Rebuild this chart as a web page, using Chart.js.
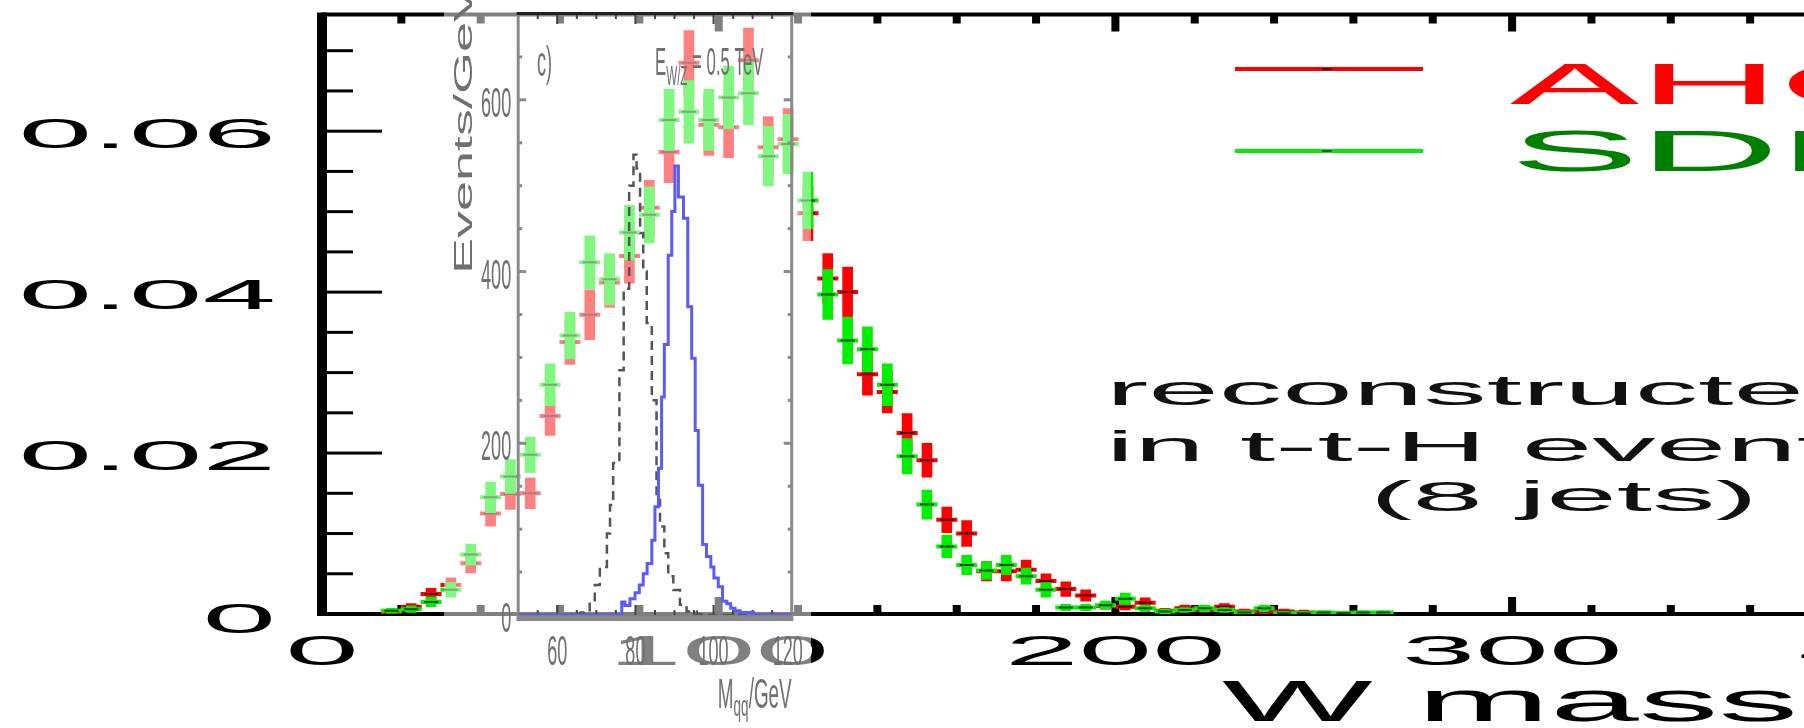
<!DOCTYPE html>
<html>
<head>
<meta charset="utf-8">
<script src="https://cdn.jsdelivr.net/npm/chart.js@4.4.0/dist/chart.umd.min.js"></script>
<style>
  html, body { margin: 0; padding: 0; overflow: hidden; background: #fff; }
  #wrap { position: relative; width: 1804px; height: 728px; overflow: hidden; }
  #mainChart { position: absolute; left: 0; top: 0; }
  #insetChart { position: absolute; left: 444px; top: 0; background: rgba(255, 255, 255, 0.5); }
</style>
</head>
<body>
<div id="wrap">
  <canvas id="mainChart" width="2320" height="728"></canvas>
  <canvas id="insetChart" width="367" height="728"></canvas>
</div>
<script>
// --- main histogram: reconstructed W mass, 5 GeV bins ---
const massBins = [17.5, 22.5, 27.5, 32.5, 37.5, 42.5, 47.5, 52.5, 57.5, 62.5,
  67.5, 72.5, 77.5, 82.5, 87.5, 92.5, 97.5, 102.5, 107.5, 112.5,
  117.5, 122.5, 127.5, 132.5, 137.5, 142.5, 147.5, 152.5, 157.5, 162.5,
  167.5, 172.5, 177.5, 182.5, 187.5, 192.5, 197.5, 202.5, 207.5, 212.5,
  217.5, 222.5, 227.5, 232.5, 237.5, 242.5, 247.5, 252.5, 257.5, 262.5, 267.5];

const ahcal = [0.0002, 0.0009, 0.0025, 0.0036, 0.0063, 0.0125, 0.0149, 0.0150, 0.0246, 0.0338,
  0.0372, 0.0412, 0.0445, 0.0505, 0.0574, 0.0685, 0.0608, 0.0605, 0.0688, 0.0580,
  0.0590, 0.0498, 0.0417, 0.0400, 0.0298, 0.0276, 0.0225, 0.0191, 0.0117, 0.0100,
  0.0053, 0.0053, 0.0055, 0.0041, 0.0031, 0.0023, 0.0010, 0.0009, 0.0014, 0.0004,
  0.0007, 0.0005, 0.0009, 0.0003, 0.0003, 0.0003, 0.0002, 0.0001, 0.0001, null, null];
const ahcalErr = [0.0003, 0.0004, 0.0007, 0.0009, 0.0012, 0.0016, 0.0019, 0.0019, 0.0024, 0.0028,
  0.0031, 0.0031, 0.0034, 0.0034, 0.0038, 0.0040, 0.0038, 0.0038, 0.0040, 0.0038,
  0.0038, 0.0034, 0.0031, 0.0031, 0.0026, 0.0026, 0.0024, 0.0021, 0.0016, 0.0016,
  0.0012, 0.0012, 0.0012, 0.0009, 0.0009, 0.0007, 0.0004, 0.0004, 0.0006, 0.0003,
  0.0004, 0.0003, 0.0004, 0.0003, 0.0003, 0.0003, 0.0003, 0.0002, 0.0002, 0, 0];

const sdhcal = [0.0004, 0.0006, 0.0015, 0.0030, 0.0074, 0.0145, 0.0171, 0.0198, 0.0285, 0.0346,
  0.0437, 0.0416, 0.0474, 0.0496, 0.0614, 0.0624, 0.0614, 0.0642, 0.0647, 0.0569,
  0.0584, 0.0514, 0.0397, 0.0340, 0.0329, 0.0285, 0.0196, 0.0136, 0.0084, 0.0061,
  0.0054, 0.0061, 0.0047, 0.0030, 0.0008, 0.0008, 0.0011, 0.0019, 0.0007, 0.0003,
  0.0005, 0.0007, 0.0005, 0.0002, 0.0007, 0.0001, 0.0001, 0.0002, 0.0001, 0.0002, 0.0002];
const sdhcalErr = [0.0003, 0.0004, 0.0006, 0.0009, 0.0013, 0.0019, 0.0021, 0.0022, 0.0026, 0.0029,
  0.0033, 0.0032, 0.0034, 0.0035, 0.0038, 0.0039, 0.0038, 0.0039, 0.0039, 0.0037,
  0.0037, 0.0035, 0.0031, 0.0029, 0.0028, 0.0026, 0.0022, 0.0018, 0.0014, 0.0012,
  0.0011, 0.0012, 0.0010, 0.0009, 0.0004, 0.0004, 0.0005, 0.0007, 0.0004, 0.0003,
  0.0003, 0.0004, 0.0003, 0.0002, 0.0004, 0.0002, 0.0002, 0.0002, 0.0002, 0.0002, 0.0002];

const seriesNames = ['AHCAL', 'SDHCAL'];
const yTicks = [0, 0.02, 0.04, 0.06];
const yTickLabels = ['0', '0.02', '0.04', '0.06'];
const xTicks = [0, 100, 200, 300, 400];
const xTitle = 'W mass (GeV)';
const noteLines = ['reconstructed W', 'in t-t-H events', '(8 jets)'];

// --- inset: M_qq distributions (step histograms, left bin edges) ---
const blueEdges = [50, 76.5, 77.3, 78.6, 79.9, 81.0, 82.0, 83.0, 84.2, 85.0, 85.9, 86.7, 87.4, 88.4,
  89.3, 90.1, 91.0, 92.3, 93.4, 94.4, 95.3, 96.1, 97.2, 98.2, 99.3, 100.1, 101.2, 102.3,
  103.4, 104.4, 105.5, 106.8, 110.2, 120];
const blueCounts = [0, 15, 11, 19, 26, 35, 48, 60, 87, 126, 171, 254, 315, 419,
  470, 523, 487, 462, 359, 299, 215, 151, 82, 68, 56, 43, 33, 16,
  13, 8, 5, 3, 0, 0];
const dashEdges = [50, 66.0, 68.3, 69.6, 70.9, 72.7, 73.5, 74.3, 75.9, 77.0, 78.4, 79.5, 80.3, 81.2,
  82.0, 82.9, 84.2, 85.4, 86.3, 87.4, 88.4, 89.7, 91.4, 93.1, 95.7, 98.0, 120];
const dashCounts = [0, 3, 15, 35, 56, 95, 128, 177, 285, 380, 500, 536, 520, 445,
  400, 340, 250, 134, 103, 72, 45, 29, 12, 4, 1, 0, 0];
const insetYTicks = [0, 200, 400, 600];
const insetXTicks = [60, 80, 100, 120];

const RED = '#ff0000';
const GREEN = '#00f000';
const FONT = '"Liberation Sans", Arial, sans-serif';

// text squeezed or widened along x
function wideText(ctx, text, x, y, sx, align) {
  ctx.save();
  ctx.translate(x, y);
  ctx.scale(sx, 1);
  ctx.textAlign = align || 'left';
  ctx.fillText(text, 0, 0);
  ctx.restore();
}

// several runs (text, size, baseline shift) laid out in one line
function runText(ctx, runs, x, y, sx, align) {
  let total = 0;
  runs.forEach(r => { ctx.font = r[1] + 'px ' + FONT; total += ctx.measureText(r[0]).width * sx; });
  let cx = align === 'right' ? x - total : x;
  runs.forEach(r => {
    ctx.font = r[1] + 'px ' + FONT;
    const w = ctx.measureText(r[0]).width * sx;
    wideText(ctx, r[0], cx, y + r[2], sx, 'left');
    cx += w;
  });
}

function errorBars(values, errs) {
  const out = [];
  values.forEach((v, i) => {
    if (v !== null) out.push({ x: massBins[i], y: [v - errs[i], v + errs[i]] });
  });
  return out;
}
function centres(values) {
  const out = [];
  values.forEach((v, i) => { if (v !== null) out.push({ x: massBins[i], y: v }); });
  return out;
}

const markDefaults = { type: 'line', showLine: false, pointStyle: 'line', pointHoverRadius: 0 };

const mainFrame = {
  id: 'mainFrame',
  beforeDatasetsDraw(chart) {
    const { ctx, chartArea: a, scales: { x, y } } = chart;
    ctx.save();
    ctx.fillStyle = '#000';
    ctx.fillRect(a.left - 5, a.top - 2, 10, a.bottom - a.top + 4);
    ctx.fillRect(a.left, a.top - 2, a.right - a.left, 4);
    ctx.fillRect(a.left, a.bottom - 2, a.right - a.left, 4);
    // y ticks every 0.005, long at the labelled ones
    for (let k = 1; k * 0.005 < y.max; k++) {
      const py = y.getPixelForValue(k * 0.005);
      ctx.fillRect(a.left + 5, py - 1.5, k % 4 === 0 ? 55 : 26, 3);
    }
    // x ticks every 20 GeV on bottom and top
    for (let v = 20; v < x.max; v += 20) {
      const px = x.getPixelForValue(v);
      const len = v % 100 === 0 ? 17 : 9;
      ctx.fillRect(px - 4, a.bottom - len, 8, len);
      ctx.fillRect(px - 4, a.top, 8, len);
    }
    ctx.restore();
  },
  afterDraw(chart) {
    const { ctx, chartArea: a, scales: { x, y } } = chart;
    ctx.save();
    ctx.fillStyle = '#000';
    ctx.font = '42px ' + FONT;
    yTicks.forEach((v, i) => {
      const py = y.getPixelForValue(v);
      wideText(ctx, yTickLabels[i], a.left - 46, py + (v === 0 ? 19 : 17), 3.15, 'right');
    });
    xTicks.forEach(v => {
      wideText(ctx, String(v), x.getPixelForValue(v), 665, 3.15, 'center');
    });
    ctx.font = '57px ' + FONT;
    wideText(ctx, xTitle, 1222, 721, 2.8, 'left');

    // legend: sample line and name for each series
    const colors = [RED, GREEN];
    const textColors = [RED, '#008000'];
    const lineRows = [69, 151];
    const textRows = [103.5, 171];
    lineRows.forEach((ry, i) => {
      ctx.fillStyle = colors[i];
      ctx.fillRect(1235, ry - 2, 188, 4);
      ctx.fillStyle = 'rgba(0,0,0,0.6)';
      ctx.fillRect(1322, ry - 1, 10, 2);
      ctx.fillStyle = textColors[i];
      ctx.font = '57px ' + FONT;
      wideText(ctx, seriesNames[i], 1510, textRows[i], 3.4, 'left');
    });

    // annotation
    ctx.fillStyle = '#111';
    ctx.font = '43px ' + FONT;
    wideText(ctx, noteLines[0], 1106, 405, 2.95, 'left');
    wideText(ctx, noteLines[1], 1106, 461, 2.95, 'left');
    wideText(ctx, noteLines[2], 1370, 511, 2.95, 'left');
    ctx.restore();
  }
};

new Chart(document.getElementById('mainChart'), {
  type: 'bar',
  data: {
    datasets: [
      { label: seriesNames[0], data: errorBars(ahcal, ahcalErr), backgroundColor: RED,
        barThickness: 10, grouped: false, borderWidth: 0, order: 6 },
      Object.assign({ data: centres(ahcal), pointRadius: 10.5, pointBorderWidth: 4,
        pointBorderColor: RED, order: 5 }, markDefaults),
      Object.assign({ data: centres(ahcal), pointRadius: 7, pointBorderWidth: 2,
        pointBorderColor: 'rgba(0,0,0,0.7)', order: 4 }, markDefaults),
      { label: seriesNames[1], data: errorBars(sdhcal, sdhcalErr), backgroundColor: GREEN,
        barThickness: 10, grouped: false, borderWidth: 0, order: 3 },
      Object.assign({ data: centres(sdhcal), pointRadius: 10.5, pointBorderWidth: 4,
        pointBorderColor: GREEN, order: 2 }, markDefaults),
      Object.assign({ data: centres(sdhcal), pointRadius: 7, pointBorderWidth: 2,
        pointBorderColor: 'rgba(0,0,0,0.7)', order: 1 }, markDefaults)
    ]
  },
  options: {
    responsive: false,
    devicePixelRatio: 1,
    animation: false,
    events: [],
    layout: { padding: { left: 322, right: 10.5, top: 12, bottom: 114 } },
    plugins: { legend: { display: false }, tooltip: { enabled: false } },
    scales: {
      x: { type: 'linear', min: 0, max: 500, offset: false, display: false },
      y: { type: 'linear', min: 0, max: 0.0745, display: false }
    }
  },
  plugins: [mainFrame]
});

const insetFrame = {
  id: 'insetFrame',
  beforeDatasetsDraw(chart) {
    const { ctx, chartArea: a, scales: { x, y } } = chart;
    ctx.save();
    // gray ticks on left/right, every 50
    ctx.fillStyle = '#8a8a8a';
    for (let v = 50; v < y.max; v += 50) {
      const py = y.getPixelForValue(v);
      const len = v % 200 === 0 ? 8 : 4;
      ctx.fillRect(a.left, py - 1.5, len, 3);
      ctx.fillRect(a.right - len, py - 1.5, len, 3);
    }
    // dark ticks on top/bottom, every 5
    ctx.fillStyle = '#444';
    for (let v = 55; v < x.max; v += 5) {
      const px = x.getPixelForValue(v);
      const len = v % 20 === 0 ? 10 : 5;
      ctx.fillRect(px - 1, a.top, 2, len);
      ctx.fillRect(px - 1, a.bottom - len, 2, len);
    }
    ctx.fillStyle = '#8a8a8a';
    ctx.fillRect(a.left - 1.5, a.top, 3, a.bottom - a.top + 6);
    ctx.fillRect(a.right - 1.5, a.top, 3, a.bottom - a.top + 6);
    ctx.fillRect(a.left - 1.5, a.bottom + 1, a.right - a.left + 3, 5);
    ctx.fillStyle = '#222';
    ctx.fillRect(a.left - 1.5, a.top - 2, a.right - a.left + 3, 3);
    ctx.restore();
  },
  afterDraw(chart) {
    const { ctx, chartArea: a, scales: { x, y } } = chart;
    ctx.save();
    ctx.fillStyle = '#707070';
    ctx.font = '42px ' + FONT;
    insetYTicks.forEach(v => {
      wideText(ctx, String(v), a.left - 7, y.getPixelForValue(v) + 17, 0.43, 'right');
    });
    insetXTicks.forEach(v => {
      wideText(ctx, String(v), x.getPixelForValue(v) - (v === 120 ? 4 : 0), 665, 0.43, 'center');
    });
    runText(ctx, [['M', 42, 0], ['qq', 30, 8], ['/GeV', 42, 0]], a.right, 708, 0.45, 'right');
    runText(ctx, [['c)', 42, 0]], 93, 76, 0.43, 'left');
    runText(ctx, [['E', 39, 0], ['W/Z', 27, 10], [' = 0.5 TeV', 39, 0]], 211, 75, 0.43, 'left');
    // rotated y title
    ctx.font = '54px ' + FONT;
    ctx.translate(28, 274);
    ctx.rotate(-Math.PI / 2);
    ctx.scale(1, 0.49);
    ctx.textAlign = 'left';
    ctx.fillText('Events/GeV', 0, 0);
    ctx.restore();
  }
};

new Chart(document.getElementById('insetChart'), {
  type: 'line',
  data: {
    datasets: [
      { data: blueEdges.map((e, i) => ({ x: e, y: blueCounts[i] })), stepped: true,
        borderColor: '#5a5aff', borderWidth: 3, pointRadius: 0, fill: false, order: 1 },
      { data: dashEdges.map((e, i) => ({ x: e, y: dashCounts[i] })), stepped: true,
        borderColor: '#555', borderWidth: 2.5, borderDash: [9, 6], pointRadius: 0, fill: false, order: 2 }
    ]
  },
  options: {
    responsive: false,
    devicePixelRatio: 1,
    animation: false,
    events: [],
    layout: { padding: { left: 74.2, right: 19.3, top: 14, bottom: 113 } },
    plugins: { legend: { display: false }, tooltip: { enabled: false } },
    scales: {
      x: { type: 'linear', min: 50, max: 120, display: false },
      y: { type: 'linear', min: 0, max: 700, display: false }
    }
  },
  plugins: [insetFrame]
});
</script>
</body>
</html>
